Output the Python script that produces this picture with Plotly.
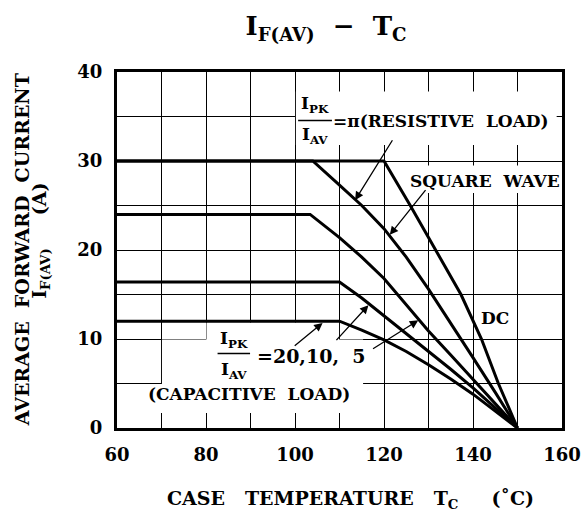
import plotly.graph_objects as go

# ---- data ----
dc_x = [60, 120, 125.9, 131.6, 137.3, 141.9, 145.7, 150]
dc_y = [30, 30, 25, 20, 15, 10, 5, 0]

res_x = [60, 104, 110, 115, 120, 125, 130, 135, 140, 145, 150]
res_y = [30, 30, 27.3, 25.0, 22.4, 19.2, 15.6, 11.8, 7.9, 4.0, 0]

sq_x = [60, 103.4, 110, 115, 120, 125, 130, 135, 140, 145, 150]
sq_y = [24, 24, 21.4, 19.2, 16.8, 13.9, 10.9, 8.2, 5.5, 2.8, 0]

cap10_x = [60, 110, 115, 120, 125, 130, 135, 140, 145, 150]
cap10_y = [16.4, 16.4, 14.6, 12.6, 10.7, 8.7, 6.6, 4.5, 2.3, 0]

cap20_x = [60, 110, 115, 120, 125, 130, 135, 140, 145, 150]
cap20_y = [12, 12, 11.0, 9.9, 8.6, 7.1, 5.5, 3.8, 1.9, 0]

x_ticks = [60, 80, 100, 120, 140, 160]
y_ticks = [0, 10, 20, 30, 40]

FONT = "DejaVu Serif"
NB = "\u00a0"
W, H = 583, 515

fig = go.Figure()
for xs, ys in [(dc_x, dc_y), (res_x, res_y), (sq_x, sq_y), (cap10_x, cap10_y), (cap20_x, cap20_y)]:
    fig.add_trace(go.Scatter(x=xs, y=ys, mode="lines",
                             line=dict(color="black", width=3), hoverinfo="skip"))

# white masks hiding grid behind labels (between grid and traces)
masks = [
    (100.2, 158.8, 31.8, 37.8),
    (126.5, 159.0, 26.4, 29.5),
    (80.1, 109.9, 0.0, 11.85),
    (70.1, 115.3, 0.0, 9.95),
    (60.1, 115.3, 0.0, 4.95),
]
for x0, x1, y0, y1 in masks:
    fig.add_shape(type="rect", xref="x", yref="y", x0=x0, x1=x1, y0=y0, y1=y1,
                  fillcolor="white", line=dict(width=0), layer="between")

# fraction bars
for x0, x1, yy in [(100.7, 108.3, 34.55), (82.6, 89.9, 8.37)]:
    fig.add_shape(type="line", xref="x", yref="y", x0=x0, x1=x1, y0=yy, y1=yy,
                  line=dict(color="black", width=1.5))

ann = []
def txt(x, y, t, xanchor="center", size=17):
    ann.append(dict(x=x, y=y, xref="x", yref="y", text=t, showarrow=False,
                    xanchor=xanchor, yanchor="middle",
                    font=dict(family=FONT, size=size, color="black", weight="bold")))

txt(104.5, 36.3, "I<sub>PK</sub>")
txt(104.5, 32.9, "I<sub>AV</sub>")
txt(108.2, 34.5, "=\u03c0(RESISTIVE" + NB + NB + "LOAD)", xanchor="left")
txt(142.7, 27.8, "SQUARE" + NB + NB + "WAVE")
txt(144.9, 12.4, "DC")
txt(86.3, 9.9, "I<sub>PK</sub>")
txt(86.3, 6.5, "I<sub>AV</sub>")
txt(91.0, 8.1, "=20,10," + NB + NB + "5", xanchor="left", size=19)
txt(89.7, 3.8, "(CAPACITIVE" + NB + NB + "LOAD)")

arrows = [
    (113.5, 25.6, 122.1, 32.5),
    (121.3, 21.7, 129.6, 26.9),
    (106.2, 11.8, 99.6, 9.1),
    (116.5, 13.8, 109.0, 9.7),
    (127.7, 12.1, 117.2, 8.8),
]
for hx, hy, tx, ty in arrows:
    ann.append(dict(x=hx, y=hy, ax=tx, ay=ty, xref="x", yref="y", axref="x", ayref="y",
                    text="", showarrow=True, arrowhead=2, arrowsize=1.3,
                    arrowwidth=1.3, arrowcolor="black", standoff=0, startstandoff=0))

# y-axis title (two lines)
ann.append(dict(x=-0.213, y=0.5, xref="paper", yref="paper", textangle=-90,
                text="AVERAGE" + NB + NB + "FORWARD" + NB + NB + "CURRENT", showarrow=False,
                xanchor="center", yanchor="middle",
                font=dict(family=FONT, size=19, color="black", weight="bold")))
ann.append(dict(x=-0.172, y=0.527, xref="paper", yref="paper", textangle=-90,
                text="I<sub>F(AV)</sub>" + NB * 5 + "(A)", showarrow=False,
                xanchor="center", yanchor="middle",
                font=dict(family=FONT, size=19, color="black", weight="bold")))
# x-axis title
ann.append(dict(x=0.525, y=-0.2, xref="paper", yref="paper",
                text="CASE" + NB * 3 + "TEMPERATURE" + NB * 3 + "T<sub>C</sub>" + NB * 5 + "(\u02daC)",
                showarrow=False, xanchor="center", yanchor="middle",
                font=dict(family=FONT, size=19, color="black", weight="bold")))

fig.update_layout(
    width=W, height=H,
    margin=dict(l=117, r=21, t=72, b=87, autoexpand=False),
    plot_bgcolor="white", paper_bgcolor="white",
    showlegend=False,
    annotations=ann,
    title=dict(text="I<sub>F(AV)</sub>" + NB * 2 + "\u2212" + NB * 2 + "T<sub>C</sub>",
               x=326 / W, xanchor="center", y=1 - 26 / H, yanchor="middle",
               automargin=False,
               font=dict(family=FONT, size=26, color="black", weight="bold")),
)
fig.update_xaxes(
    range=[60, 160], tickmode="array", tickvals=x_ticks, ticktext=[str(v) for v in x_ticks],
    showgrid=True, gridcolor="black", gridwidth=1,
    ticks="inside", ticklen=15, tickwidth=1, tickcolor="black",
    minor=dict(dtick=10, tick0=60, showgrid=True, gridcolor="black", gridwidth=1,
               ticks="inside", ticklen=15, tickwidth=1, tickcolor="black"),
    showline=True, linewidth=3, linecolor="black", mirror=True, zeroline=False,
    tickfont=dict(family=FONT, size=18, color="black", weight="bold"),
    ticklabelstandoff=8, automargin=False,
)
fig.update_yaxes(
    range=[0, 40], tickmode="array", tickvals=y_ticks, ticktext=[str(v) for v in y_ticks],
    showgrid=True, gridcolor="black", gridwidth=1, ticks="",
    minor=dict(dtick=5, tick0=0, showgrid=True, gridcolor="black", gridwidth=1),
    showline=True, linewidth=3, linecolor="black", mirror=True, zeroline=False,
    tickfont=dict(family=FONT, size=18, color="black", weight="bold"),
    ticklabelstandoff=8, automargin=False,
)

fig.write_html("out.html",
               config={"displayModeBar": False},
               post_script="document.body.style.margin='0';document.body.style.overflow='hidden';")
